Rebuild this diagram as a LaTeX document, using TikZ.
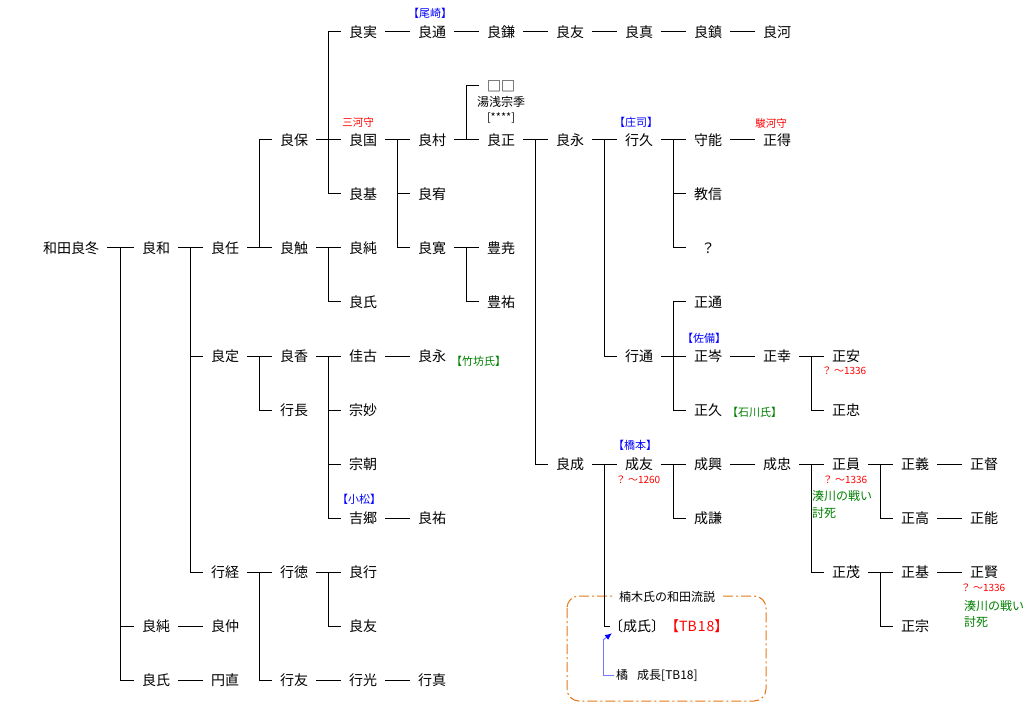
\documentclass[tikz,border=0pt]{standalone}
\usepackage{fontspec}
\setmainfont{Noto Sans CJK JP}
\usetikzlibrary{calc,arrows.meta}
\definecolor{lblue}{RGB}{0,0,255}
\definecolor{lred}{RGB}{255,0,0}
\definecolor{lgreen}{RGB}{0,128,0}
\definecolor{boxorange}{RGB}{230,120,20}
\definecolor{arrblue}{RGB}{120,120,255}
\tikzset{
  nm/.style={font=\fontsize{14}{16}\selectfont, inner ysep=0pt, inner xsep=8pt,
    minimum width=44pt, text height=12.3pt, text depth=1.7pt},
  ln/.style={line width=1pt, black, line cap=rect},
  bluelab/.style={font=\fontsize{11}{12}\selectfont, text=lblue, inner sep=0pt},
  redlab/.style={font=\fontsize{10.5}{12}\selectfont, text=lred, inner sep=0pt},
  datelab/.style={font=\fontsize{10}{12}\selectfont, text=lred, inner sep=0pt},
  greenlab/.style={font=\fontsize{11}{12}\selectfont, text=lgreen, inner sep=0pt, anchor=west},
  deathlab/.style={font=\fontsize{12}{14}\selectfont, text=lgreen, inner sep=0pt, anchor=west},
}
\newcommand\branch[4]{%
  \coordinate (m) at ($(#1.east)!.5!(#1.east -| #2.west)$);
  \draw[ln] (#1.east) -- (m);
  \draw[ln] (m |- #2.west) -- (m |- #3.west);
  \foreach \c in {#4} {\draw[ln] (m |- \c.west) -- (\c.west);}
}
\newcommand\chain[2]{\draw[ln] (#1.east) -- (#2.west);}
\begin{document}
\begin{tikzpicture}[x=1pt,y=-1pt]
\useasboundingbox[fill=white] (0,0) rectangle (1028,727);

% Tachibana box
\draw[boxorange, line width=1pt, dash pattern=on 10pt off 3pt on 2pt off 3pt, rounded corners=12pt]
  (567,596) rectangle (766,701);
\node[font=\fontsize{12}{14}\selectfont, fill=white, inner xsep=6pt, inner ysep=2pt] (ttl) at (667,597) {楠木氏の和田流説};

% names
\node[nm] (n0) at (71,248) {和田良冬};
\node[nm] (yoshikazu) at (156,248) {良和};
\node[nm] (jun2) at (156,626) {良純};
\node[nm] (uji2) at (156,680) {良氏};
\node[nm] (naka) at (225,626) {良仲};
\node[nm] (ennao) at (225,680) {円直};
\node[nm] (ninin) at (225,248) {良任};
\node[nm] (sada) at (225,356) {良定};
\node[nm] (yukitsune) at (225,572) {行経};
\node[nm] (yasu) at (294,140) {良保};
\node[nm] (shoku) at (294,248) {良触};
\node[nm] (kaori) at (294,356) {良香};
\node[nm] (nagas) at (294,410) {行長};
\node[nm] (yukinori) at (294,572) {行徳};
\node[nm] (yukitomo) at (294,680) {行友};
\node[nm] (jitsu) at (363,32) {良実};
\node[nm] (kuni) at (363,140) {良国};
\node[nm] (moto) at (363,194) {良基};
\node[nm] (jun1) at (363,248) {良純};
\node[nm] (uji1) at (363,302) {良氏};
\node[nm] (keiko) at (363,356) {佳古};
\node[nm] (somyo) at (363,410) {宗妙};
\node[nm] (socho) at (363,464) {宗朝};
\node[nm] (yoshisato) at (363,518) {吉郷};
\node[nm] (ryoko) at (363,572) {良行};
\node[nm] (tomo2) at (363,626) {良友};
\node[nm] (yukimitsu) at (363,680) {行光};
\node[nm] (tsu) at (432,32) {良通};
\node[nm] (mura) at (432,140) {良村};
\node[nm] (yu) at (432,194) {良宥};
\node[nm] (kan) at (432,248) {良寛};
\node[nm] (ei2) at (432,356) {良永};
\node[nm] (ryoyu) at (432,518) {良祐};
\node[nm] (yukizane) at (432,680) {行真};
\node[nm] (ken) at (501,32) {良鎌};
\node[nm] (yuasa) at (501,86) {□□};
\node[font=\fontsize{12}{14}\selectfont, inner sep=0pt] (yuasa2) at (501,102) {湯浅宗季};
\node[font=\fontsize{11}{12}\selectfont, inner sep=0pt] (yuasa3) at (501,118) {[****]};
\node[nm] (masa) at (501,140) {良正};
\node[nm] (hoga) at (501,248) {豊尭};
\node[nm] (hoyu) at (501,302) {豊祐};
\node[nm] (tomo1) at (570,32) {良友};
\node[nm] (ei) at (570,140) {良永};
\node[nm] (nari) at (570,464) {良成};
\node[nm] (shin) at (639,32) {良真};
\node[nm] (yukihisa) at (639,140) {行久};
\node[nm] (yukimichi) at (639,356) {行通};
\node[nm] (naritomo) at (639,464) {成友};
\node[nm, anchor=west, inner xsep=0pt, minimum width=0pt] (seiji) at (609,626) {〔成氏〕\textcolor{lred}{【TB\kern1pt1\kern1pt8】}};
\node[font=\fontsize{12}{14}\selectfont, inner sep=0pt, anchor=west] (tb) at (616,675) {橘\hspace{9pt}成長[TB18]};
\node[nm] (chin) at (708,32) {良鎮};
\node[nm] (shuno) at (708,140) {守能};
\node[nm] (kyoshin) at (708,194) {教信};
\node[nm] (q) at (708,248) {？};
\node[nm] (seitsu) at (708,302) {正通};
\node[nm] (seishin) at (708,356) {正岑};
\node[nm] (seikyu) at (708,410) {正久};
\node[nm] (narioki) at (708,464) {成興};
\node[nm] (nariken) at (708,518) {成謙};
\node[nm] (ka) at (777,32) {良河};
\node[nm] (seitoku) at (777,140) {正得};
\node[nm] (seiko) at (777,356) {正幸};
\node[nm] (narita) at (777,464) {成忠};
\node[nm] (seian) at (846,356) {正安};
\node[nm] (seichu) at (846,410) {正忠};
\node[nm] (seiin) at (846,464) {正員};
\node[nm] (seimo) at (846,572) {正茂};
\node[nm] (seigi) at (915,464) {正義};
\node[nm] (seikou) at (915,518) {正高};
\node[nm] (seiki) at (915,572) {正基};
\node[nm] (seiso) at (915,626) {正宗};
\node[nm] (seitoku2) at (984,464) {正督};
\node[nm] (seino) at (984,518) {正能};
\node[nm] (seiken) at (984,572) {正賢};

% annotations
\node[bluelab] (ozaki) at (430,13) {【尾崎】};
\node[redlab] (mikawa) at (358,123) {三河守};
\node[bluelab] (shoji) at (636,122) {【庄司】};
\node[redlab] (suruga) at (771,124) {駿河守};
\node[bluelab] (sabi) at (704,338) {【佐備】};
\node[datelab] (dseian) at (844,371) {？ ～1336};
\node[greenlab] (ishikawa) at (727,412) {【石川氏】};
\node[greenlab] (takebo) at (451,361) {【竹坊氏】};
\node[bluelab] (komatsu) at (359,499) {【小松】};
\node[bluelab] (hashimoto) at (635,445) {【橋本】};
\node[datelab] (dnaritomo) at (638,480) {？ ～1260};
\node[datelab] (dseiin) at (845,480) {？ ～1336};
\node[deathlab] (mseiin1) at (812,496) {湊川の戦い};
\node[deathlab] (mseiin2) at (812,513) {討死};
\node[datelab] (dseiken) at (983,588) {？ ～1336};
\node[deathlab] (mseiken1) at (964,606) {湊川の戦い};
\node[deathlab] (mseiken2) at (964,622) {討死};

% connectors
\branch{n0}{yoshikazu}{uji2}{yoshikazu,jun2,uji2}
\chain{jun2}{naka}
\chain{uji2}{ennao}
\branch{yoshikazu}{ninin}{yukitsune}{ninin,sada,yukitsune}
\branch{ninin}{yasu}{shoku}{yasu,shoku}
\branch{yasu}{jitsu}{moto}{jitsu,kuni,moto}
\chain{jitsu}{tsu}
\chain{tsu}{ken}
\chain{ken}{tomo1}
\chain{tomo1}{shin}
\chain{shin}{chin}
\chain{chin}{ka}
\branch{kuni}{mura}{kan}{mura,yu,kan}
\branch{mura}{yuasa}{masa}{yuasa,masa}
\branch{masa}{ei}{nari}{ei,nari}
\branch{ei}{yukihisa}{yukimichi}{yukihisa,yukimichi}
\branch{yukihisa}{shuno}{q}{shuno,kyoshin,q}
\chain{shuno}{seitoku}
\branch{yukimichi}{seitsu}{seikyu}{seitsu,seishin,seikyu}
\chain{seishin}{seiko}
\branch{seiko}{seian}{seichu}{seian,seichu}
\branch{nari}{naritomo}{seiji}{naritomo,seiji}
\branch{naritomo}{narioki}{nariken}{narioki,nariken}
\chain{narioki}{narita}
\branch{narita}{seiin}{seimo}{seiin,seimo}
\branch{seiin}{seigi}{seikou}{seigi,seikou}
\chain{seigi}{seitoku2}
\chain{seikou}{seino}
\branch{seimo}{seiki}{seiso}{seiki,seiso}
\chain{seiki}{seiken}
\branch{kan}{hoga}{hoyu}{hoga,hoyu}
\branch{shoku}{jun1}{uji1}{jun1,uji1}
\branch{sada}{kaori}{nagas}{kaori,nagas}
\branch{kaori}{keiko}{yoshisato}{keiko,somyo,socho,yoshisato}
\chain{keiko}{ei2}
\chain{yoshisato}{ryoyu}
\branch{yukitsune}{yukinori}{yukitomo}{yukinori,yukitomo}
\branch{yukinori}{ryoko}{tomo2}{ryoko,tomo2}
\chain{yukitomo}{yukimitsu}
\chain{yukimitsu}{yukizane}

% Tachibana arrow
\coordinate (tbc) at ([xshift=-13pt]tb.west);
\draw[arrblue, line width=1pt] ([xshift=-2pt]tb.west) -- (tbc) -- ++(0,-35) coordinate (tbt);
\draw[arrblue, line width=1pt, -{Latex[length=7pt,width=6pt,color=lblue]}] (tbt) -- ([shift={(3pt,0pt)}]seiji.south west);
\end{tikzpicture}
\end{document}
